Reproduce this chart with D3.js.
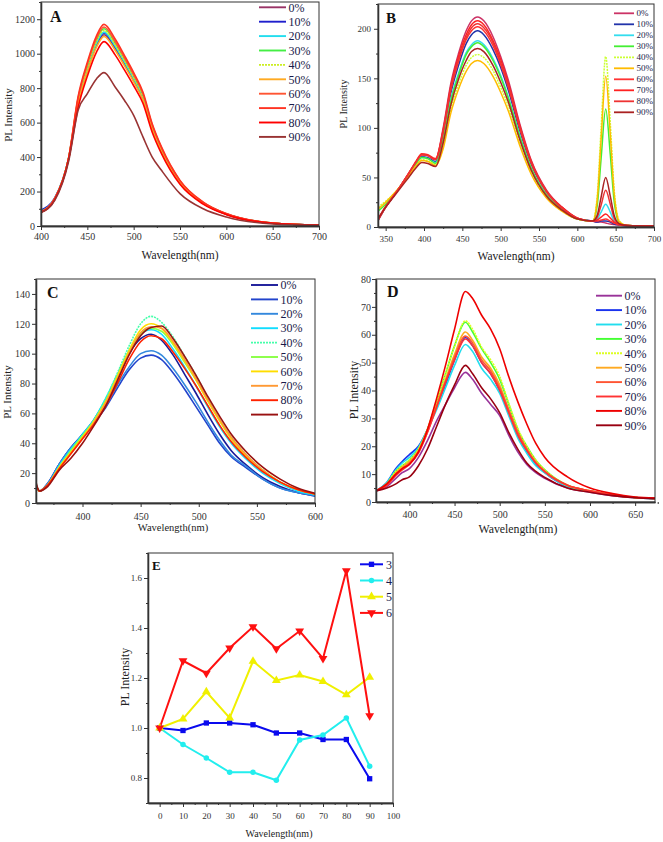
<!DOCTYPE html>
<html><head><meta charset="utf-8">
<script src="https://cdn.jsdelivr.net/npm/d3@7"></script>
<style>
body{margin:0;background:#fff}
svg{display:block;font-family:"Liberation Serif","Times New Roman",serif}
</style>
</head><body>
<svg id="c" width="663" height="842"></svg>
<script>
// ---------- DATA ----------
const pctLabels = ["0%","10%","20%","30%","40%","50%","60%","70%","80%","90%"];

// Panel A
const aX = [400,415,430,440,450,460,468,480,490,500,510,520,530,550,575,600,650,700];
const aY = [
 [80,158,395,712,902,1049,1110,1030,940,845,738,564,436,251,132,68,16,5],
 [92,165,398,718,909,1057,1120,1038,947,852,745,568,439,254,133,69,16,5],
 [85,160,398,722,914,1063,1125,1044,952,856,748,571,442,255,134,69,16,5],
 [83,160,400,734,930,1082,1145,1062,969,871,762,582,449,259,136,70,17,5],
 [83,160,398,728,922,1072,1135,1052,960,863,755,576,445,257,135,70,16,5],
 [80,158,395,705,893,1039,1100,1020,931,837,731,558,431,249,131,68,16,5],
 [82,160,400,740,938,1091,1155,1071,977,878,768,586,453,262,137,71,17,5],
 [82,160,400,750,950,1105,1170,1085,990,890,778,594,459,265,139,72,17,5],
 [78,155,392,686,869,1011,1070,993,906,814,712,544,420,242,127,66,16,5],
 [78,150,380,671,768,855,890,807,730,642,517,400,323,188,100,52,12,4]
];

// Panel B
const bX = [340,350,360,370,380,390,397,405,415,425,435,445,455,462,470,478,490,500,510,525,540,560,580,600,620,626,631,637,643,648,655,665,700];
const bY = [
 [6,20,31,42,54,66,73,72,68, 100,145,175,198,208,212,208,192,172,148,104,67,37,20,9, 6,5,5,4,3,2.5,2,1.5,1],
 [7,20,31,42,53,65,71,70,66, 93,135,163,185,194,198,194,179,161,138,97,63,35,19,8.5, 6,5,6,6,5,3,2,1,0.5],
 [7,20,31,42,53,64,70,69,65, 89,129,155,176,184,188,184,170,153,131,92,59,33,18,8, 6,8,15,23,15,6,2.5,1.5,1],
 [16,23,32,42,53,64,70,69,64, 88,127,153,174,182,186,182,168,151,130,91,59,32,18,8, 6,22,69,119,73,26,4,1.5,1],
 [20,26,33,42,52,62,68,67,63, 82,119,144,163,171,174,171,158,141,122,85,55,30,16,8, 6,32,100,172,105,38,6,1.5,1],
 [18,25,33,42,52,62,67,66,62, 79,115,139,157,165,168,165,152,136,117,82,53,29,16,8, 6,28,88,152,93,34,5,1.5,1],
 [7,20,31,42,54,66,73,72,68, 95,138,167,189,198,202,198,183,164,141,99,64,35,19,9, 6,6,7,8,6,4,2,1.5,1],
 [7,20,31,42,54,67,74,73,69, 98,142,172,194,204,208,204,188,169,145,102,66,36,20,9, 6,7,10,13,9,5,2.5,1.5,1],
 [8,21,31,42,54,66,73,72,68, 97,140,169,191,201,205,201,186,166,143,101,65,36,19,9, 6,10,22,37,23,9,3,1.5,1],
 [8,20,30,40,50,60,65,64,61, 85,123,149,168,177,180,177,163,146,126,88,57,31,17,8, 6,12,30,50,31,12,3,1.5,1]
];

// Panel C
const cX = [360,363,370,380,390,400,410,420,430,440,450,459,468,478,488,498,508,518,528,540,555,570,585,600];
const cY = [
 [12,8,13,26,37,46,56,69,84,100,110,113,109,99,86,73,59,46,35,26,17,11,7,5],
 [12,8,13,26,37,45,54,64,77,89,97,99,96,87,76,64,52,40,31,24,16,10,7,4.5],
 [12,8,13,26,37,45,55,65,79,91,100,102,99,90,79,67,54,42,32,25,16,10,7,5],
 [12,8,12,25,36,46,56,70,86,102,113,116,113,103,91,78,64,51,40,30,20,13,8,5.5],
 [13,8,12,24,35,45,56,70,87,105,120,125,121,111,98,85,70,56,44,33,22,14,9,6],
 [12,8,12,24,35,45,55,68,84,100,113,117,115,106,94,82,68,55,43,32,22,14,9,6],
 [12,8,12,24,34,44,55,68,85,102,116,120,117,107,95,82,68,55,43,32,22,14,9,6],
 [12,8,12,23,33,43,54,67,83,100,114,118,117,108,96,83,69,56,44,33,22,14,9,6],
 [12,8,12,23,33,43,53,65,80,96,108,112,110,101,90,78,65,52,41,31,21,14,9,6],
 [14,8,11,22,30,40,52,65,82,99,112,117.5,118.5,110,98,85,71,58,46,35,24,16,10,6.5]
];

// Panel D
const dX = [363,375,385,392,400,410,420,430,440,450,462,470,480,490,500,510,520,530,540,550,575,600,625,650,672];
const dY = [
 [4,5.5,8.5,10.5,12,16,22,29,35,41,46.5,44,39,35,31,24,18,13.5,10.5,8.5,5,3.5,2.3,1.5,1.2],
 [4,7,12,14.5,17,20,26,34,42,51,59,56,50,46,40,32,24,18,13.5,10.5,5.5,3.8,2.5,1.6,1.2],
 [4,7,11.5,14,16,19.5,26,33,41,49,56.5,54,48,44,39,31,23,17.5,13,10.5,5.5,3.7,2.4,1.5,1.2],
 [4,6.5,11,13,15,19,26,36,46,56,64.5,61,55,50,44,35,26,20,15,11.5,6,4,2.5,1.6,1.3],
 [4,6.5,11,13,15,19,26,36,46,56,65,62,55.5,51,45,35.5,26.5,20,15,11.5,6,4,2.5,1.6,1.3],
 [4,6.5,10.5,12.5,14.5,18.5,26,35,44,53,61,58,52,48,42,33,25,19,14.5,11,6,4,2.5,1.6,1.3],
 [4,6,10,12,14,18,25,34,43,52,59.5,57,51,47,41,33,25,19,14,11,6,4,2.5,1.6,1.3],
 [4,6,9.5,11.5,13.5,17.5,25,34,43,51,58.5,56,50,46,40,32,24,18.5,14,10.8,6,4,2.5,1.6,1.3],
 [4,6.5,10,12,13.5,18,26,37,49,62,75.5,73,67,62,55,45,36,28,21,16,9,5,3,1.8,1.4],
 [4,5,6.5,8,9,13,19,27,35,42,49,46,41,37,32,25,19,14,11,8.8,5,3.5,2.3,1.5,1.2]
];

// Panel E
const eX = [0,10,20,30,40,50,60,70,80,90];
const eLabels = ["3","4","5","6"];
const eS3 = [1.0,0.99,1.02,1.02,1.013,0.98,0.98,0.954,0.954,0.797];
const eS4 = [1.0,0.934,0.88,0.823,0.823,0.791,0.952,0.972,1.04,0.847];
const eS5 = [1.0,1.036,1.145,1.04,1.267,1.19,1.212,1.186,1.133,1.203];
const eS6 = [1.0,1.269,1.219,1.32,1.405,1.317,1.388,1.278,1.629,1.049];

// ---------- STYLES ----------
const aColors = ["#993366","#1f1fcc","#22ddee","#44ee44","#ccee22","#ffaa22","#ff5533","#ff3322","#ff0000","#993333"];
const bColors = ["#cc3366","#2233aa","#33ddee","#44ee33","#ccff33","#ffbb00","#ff3333","#ff2222","#ee3333","#aa2222"];
const cColors = ["#1a1a99","#2244cc","#3388dd","#11ddff","#44ffaa","#88ff44","#ffdd00","#ff9933","#ff2200","#991111"];
const dColors = ["#993399","#1a33ee","#22ddee","#44ff33","#ddff22","#ffaa22","#ff5533","#ff3333","#ee0000","#990011"];
const eColors = ["#0a0aee","#22eeee","#f0f000","#ff1010"];
const eShapes = [d3.symbolSquare, d3.symbolCircle, d3.symbolTriangle, "down"];

const svg = d3.select("#c");
const axisColor = "#333";

function drawAxes(g, x, y, c){
  g.append("rect").attr("x",c.l).attr("y",c.t).attr("width",c.r-c.l).attr("height",c.b-c.t)
    .attr("fill","none").attr("stroke",axisColor).attr("stroke-width",1);
  const xa = d3.axisBottom(x).tickValues(c.xt).tickSize(4).tickSizeOuter(0).tickPadding(c.xpad).tickFormat(c.xfmt||d3.format("d"));
  const xm = d3.axisBottom(x).tickValues(c.xm).tickSize(2).tickSizeOuter(0).tickFormat("");
  const ya = d3.axisLeft(y).tickValues(c.yt).tickSize(4).tickSizeOuter(0).tickPadding(c.ypad).tickFormat(c.yfmt||d3.format("d"));
  const ym = d3.axisLeft(y).tickValues(c.ym).tickSize(2).tickSizeOuter(0).tickFormat("");
  [[xm,"x"],[xa,"x"],[ym,"y"],[ya,"y"]].forEach(([ax,k])=>{
    const gg = g.append("g").attr("transform", k==="x" ? `translate(0,${c.b})` : `translate(${c.l},0)`).call(ax);
    gg.select(".domain").attr("stroke",axisColor).attr("stroke-width",1.3);
    gg.selectAll(".tick line").attr("stroke",axisColor).attr("stroke-width",1);
    gg.selectAll("text").attr("fill","#333").attr("font-size",c.tfs)
      .attr("font-family",'"Liberation Serif","Times New Roman",serif');
  });
  g.append("text").attr("x",c.xtx).attr("y",c.xty).attr("text-anchor","middle")
    .attr("font-size",c.xtfs).attr("fill","#222").text("Wavelength(nm)");
  g.append("text").attr("transform",`translate(${c.ytx},${c.yty}) rotate(-90)`).attr("text-anchor","middle")
    .attr("dy","0.35em").attr("font-size",c.ytfs).attr("fill","#222").text("PL Intensity");
  g.append("text").attr("x",c.lx).attr("y",c.ly).attr("font-weight","bold").attr("font-size",c.lfs)
    .attr("fill","#111").text(c.letter);
}

function spectrumPanel(c, xs, ys, colors){
  const x = d3.scaleLinear().domain(c.xd).range([c.l,c.r]);
  const y = d3.scaleLinear().domain(c.yd).range([c.b,c.t]);
  const g = svg.append("g");
  const cid = "clip"+c.letter;
  g.append("clipPath").attr("id",cid).append("rect").attr("x",c.l).attr("y",c.t).attr("width",c.r-c.l).attr("height",c.b-c.t);
  const line = d3.line().x((d,i)=>x(xs[i])).y(d=>y(d)).curve(d3.curveMonotoneX);
  const cg = g.append("g").attr("clip-path",`url(#${cid})`);
  ys.forEach((s,i)=>{
    cg.append("path").attr("d",line(s)).attr("fill","none").attr("stroke",colors[i])
      .attr("stroke-width",c.sw).attr("stroke-dasharray", (c.dotted||[]).includes(i) ? "2,1" : null);
  });
  drawAxes(g,x,y,c);
  pctLabels.forEach((lab,i)=>{
    const yy = c.lgY + i*c.lgS;
    g.append("line").attr("x1",c.lgX1).attr("x2",c.lgX2).attr("y1",yy).attr("y2",yy)
      .attr("stroke",colors[i]).attr("stroke-width",c.sw+0.3)
      .attr("stroke-dasharray",(c.dotted||[]).includes(i) ? "2,1" : null);
    g.append("text").attr("x",c.lgX2+2.5).attr("y",yy).attr("dy","0.35em").attr("font-size",c.lgfs)
      .attr("fill","#1a1a4a").text(lab);
  });
}

const range = (a,b,s)=>d3.range(a,b+s/2,s);

spectrumPanel({letter:"A",l:41,r:319,t:2,b:226,xd:[400,700],yd:[0,1300],
  xt:range(400,700,50),xm:range(425,700,50),yt:range(0,1200,200),ym:range(100,1300,200),
  xpad:3,ypad:2,tfs:10,xtx:180,xty:259,xtfs:11.5,ytx:8,yty:115,ytfs:11,lx:50,ly:22,lfs:16,
  sw:1.6,dotted:[4],lgX1:259,lgX2:286,lgY:7.3,lgS:14.4,lgfs:12}, aX, aY, aColors);

spectrumPanel({letter:"B",l:378,r:654,t:4,b:227,xd:[340,700],yd:[0,225],
  xt:range(350,700,50),xm:range(375,700,50),yt:range(0,200,50),ym:range(25,225,50),
  xpad:5,ypad:3,tfs:9,xtx:516,xty:260,xtfs:11.5,ytx:343,yty:104,ytfs:10,lx:386,ly:22.5,lfs:15,
  sw:1.5,dotted:[4],lgX1:614,lgX2:634,lgY:13.3,lgS:11,lgfs:9}, bX, bY, bColors);

spectrumPanel({letter:"C",l:36,r:315,t:279,b:503,xd:[360,600],yd:[0,150],
  xt:range(400,600,50),xm:range(375,600,50),yt:range(0,140,20),ym:range(10,150,20),
  xpad:6,ypad:2,tfs:10,xtx:173,xty:531,xtfs:10.5,ytx:7,yty:392,ytfs:11,lx:47,ly:298,lfs:16,
  sw:1.6,dotted:[4],lgX1:251,lgX2:278,lgY:285,lgS:14.4,lgfs:12}, cX, cY, cColors);

spectrumPanel({letter:"D",l:376,r:655,t:279,b:502,xd:[363,672],yd:[0,80],
  xt:range(400,650,50),xm:range(375,672,50),yt:range(0,80,10),ym:range(5,80,10),
  xpad:5,ypad:1,tfs:10,xtx:518,xty:533,xtfs:11.8,ytx:354,yty:390,ytfs:12,lx:387,ly:297,lfs:16,
  sw:1.6,dotted:[4],lgX1:596,lgX2:622,lgY:295.7,lgS:14.4,lgfs:12}, dX, dY, dColors);

// Panel E
(function(){
  const c = {letter:"E",l:148,r:393,t:553,b:803,xd:[-5,100],yd:[0.7,1.7],
    xt:range(0,100,10),xm:range(5,95,10),yt:[0.8,1.0,1.2,1.4,1.6],ym:[0.7,0.9,1.1,1.3,1.5,1.7],
    xpad:6,ypad:2,tfs:9,xtx:279,xty:837,xtfs:10,ytx:125,yty:677,ytfs:12,lx:152,ly:570,lfs:13,
    yfmt:d3.format(".1f")};
  const x = d3.scaleLinear().domain(c.xd).range([c.l,c.r]);
  const y = d3.scaleLinear().domain(c.yd).range([c.b,c.t]);
  const g = svg.append("g");
  const series = [eS3,eS4,eS5,eS6];
  const line = d3.line().x((d,i)=>x(eX[i])).y(d=>y(d));
  function marker(sel, k, cx, cy){
    if (eShapes[k]==="down"){
      sel.append("path").attr("d",d3.symbol().type(d3.symbolTriangle).size(34)())
        .attr("transform",`translate(${cx},${cy}) rotate(180)`).attr("fill",eColors[k]);
    } else {
      const size = k===0 ? 28 : k===1 ? 24 : 34;
      sel.append("path").attr("d",d3.symbol().type(eShapes[k]).size(size)())
        .attr("transform",`translate(${cx},${cy})`).attr("fill",eColors[k]);
    }
  }
  series.forEach((s,k)=>{
    g.append("path").attr("d",line(s)).attr("fill","none").attr("stroke",eColors[k]).attr("stroke-width",2);
  });
  series.forEach((s,k)=>{
    s.forEach((v,i)=>marker(g,k,x(eX[i]),y(v)));
  });
  drawAxes(g,x,y,c);
  eLabels.forEach((lab,k)=>{
    const yy = 564.3 + k*16.2;
    g.append("line").attr("x1",360).attr("x2",383).attr("y1",yy).attr("y2",yy)
      .attr("stroke",eColors[k]).attr("stroke-width",2);
    marker(g,k,371.5,yy);
    g.append("text").attr("x",386).attr("y",yy).attr("dy","0.35em").attr("font-size",12)
      .attr("fill","#1a1a4a").text(lab);
  });
})();
</script>
</body></html>
